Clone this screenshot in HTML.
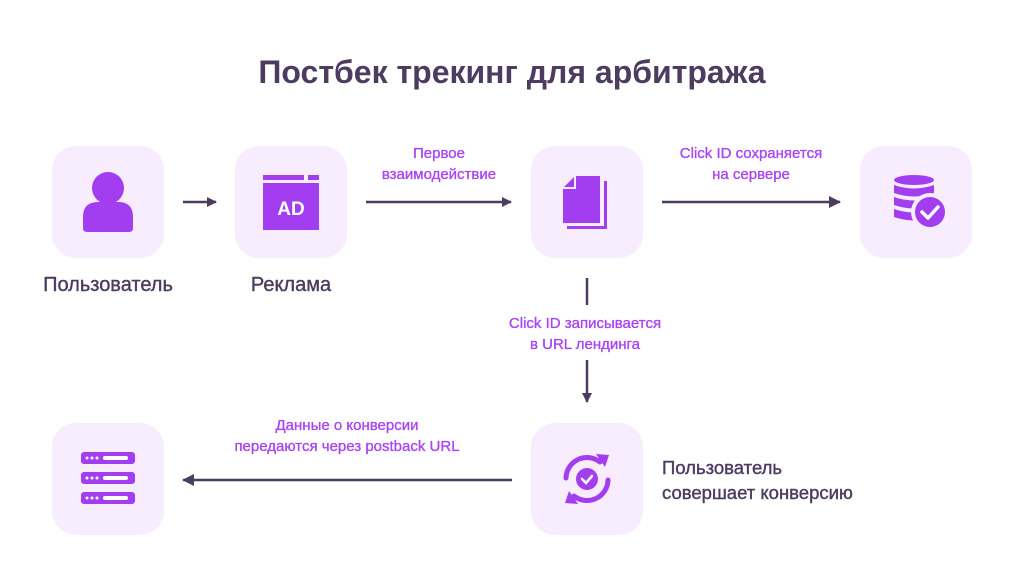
<!DOCTYPE html>
<html><head><meta charset="utf-8"><style>
html,body{margin:0;padding:0;background:#fff;}
svg{display:block;}
text{font-family:"Liberation Sans","DejaVu Sans",sans-serif;}
</style></head><body>
<svg width="1024" height="578" viewBox="0 0 1024 578" xmlns="http://www.w3.org/2000/svg">
<defs>
<marker id="ah" viewBox="0 0 10 10" refX="9" refY="5" markerWidth="10" markerHeight="10" markerUnits="userSpaceOnUse" orient="auto">
<path d="M0,0 L10,5 L0,10 Z" fill="#4e3c5f"/></marker>
<marker id="ahb" viewBox="0 0 12 12" refX="11" refY="6" markerWidth="12" markerHeight="12" markerUnits="userSpaceOnUse" orient="auto">
<path d="M0,0 L12,6 L0,12 Z" fill="#4e3c5f"/></marker>
</defs>
<text x="512" y="83" text-anchor="middle" font-size="32" font-weight="bold" fill="#4d3c60">Постбек трекинг для арбитража</text>

<g fill="#f7edfe">
<rect x="52" y="146" width="112" height="112" rx="24"/>
<rect x="235" y="146" width="112" height="112" rx="24"/>
<rect x="531" y="146" width="112" height="112" rx="24"/>
<rect x="860" y="146" width="112" height="112" rx="24"/>
<rect x="52" y="423" width="112" height="112" rx="24"/>
<rect x="531" y="423" width="112" height="112" rx="24"/>
</g>

<g fill="#a23ef0">
<circle cx="108" cy="188" r="16"/>
<path d="M83,228 v-11 q0,-15 15,-15 h20 q15,0 15,15 v11 q0,4 -4,4 h-42 q-4,0 -4,-4z"/>
<rect x="263" y="175" width="56" height="5"/>
<rect x="263" y="183" width="56" height="47"/>
<path d="M575,176 h25 v47 h-37 v-35 z"/>
<path d="M604,181 h3 v48 h-40 v-3 h37 z"/>
<ellipse cx="914" cy="180" rx="20" ry="5"/>
<path d="M894,185 q20,7 40,0 v8 q-20,7 -40,0z"/>
<path d="M894,197 q20,7 40,0 v8 q-20,7 -40,0z"/>
<path d="M894,209 q20,7 40,0 v8 q-20,7 -40,0z"/>
<circle cx="930" cy="212" r="19" fill="#f7edfe"/>
<circle cx="930" cy="212" r="15"/>
<rect x="81" y="452" width="54" height="12" rx="3"/>
<rect x="81" y="472" width="54" height="12" rx="3"/>
<rect x="81" y="492" width="54" height="12" rx="3"/>
<circle cx="587" cy="479" r="11"/>
</g>
<text x="291" y="215" text-anchor="middle" font-size="19" font-weight="bold" fill="#fff">AD</text>
<rect x="304" y="175" width="4" height="5" fill="#f7edfe"/>
<path d="M575,176 v12 h-12" fill="none" stroke="#f7edfe" stroke-width="2"/>
<path d="M922,212 l6,6 l10,-11" fill="none" stroke="#fff" stroke-width="3.5" stroke-linecap="round" stroke-linejoin="round"/>
<g fill="#fff">
<circle cx="87" cy="458" r="1.5"/><circle cx="92" cy="458" r="1.5"/><circle cx="97" cy="458" r="1.5"/><rect x="103" y="456" width="25" height="4" rx="2"/>
<circle cx="87" cy="478" r="1.5"/><circle cx="92" cy="478" r="1.5"/><circle cx="97" cy="478" r="1.5"/><rect x="103" y="476" width="25" height="4" rx="2"/>
<circle cx="87" cy="498" r="1.5"/><circle cx="92" cy="498" r="1.5"/><circle cx="97" cy="498" r="1.5"/><rect x="103" y="496" width="25" height="4" rx="2"/>
</g>
<path d="M582,479 l4,4 l6,-7" fill="none" stroke="#fff" stroke-width="2.5" stroke-linecap="round"/>
<path d="M566,478 a21,21 0 0 1 34,-16" fill="none" stroke="#a23ef0" stroke-width="5" stroke-linecap="round"/>
<path d="M608,480 a21,21 0 0 1 -34,16" fill="none" stroke="#a23ef0" stroke-width="5" stroke-linecap="round"/>
<path d="M596,454 l13,1 l-4,12 z" fill="#a23ef0"/>
<path d="M578,504 l-13,-1 l4,-12 z" fill="#a23ef0"/>

<g stroke="#4e3c5f" stroke-width="2.5" fill="none">
<line x1="183" y1="202" x2="216" y2="202" marker-end="url(#ah)"/>
<line x1="366" y1="202" x2="511" y2="202" marker-end="url(#ah)"/>
<line x1="662" y1="202" x2="840" y2="202" marker-end="url(#ahb)"/>
<line x1="587" y1="278" x2="587" y2="305"/>
<line x1="587" y1="360" x2="587" y2="402" marker-end="url(#ah)"/>
<line x1="512" y1="480" x2="183" y2="480" marker-end="url(#ahb)"/>
</g>

<g font-size="20" fill="#4d3c60" stroke="#4d3c60" stroke-width="0.4">
<text x="108" y="291" text-anchor="middle">Пользователь</text>
<text x="291" y="291" text-anchor="middle">Реклама</text>
<text x="662" y="474" font-size="18.5">Пользователь</text>
<text x="662" y="499" font-size="18.5">совершает конверсию</text>
</g>
<g font-size="15" fill="#a945f5" stroke="#a945f5" stroke-width="0.35" text-anchor="middle">
<text x="439" y="158">Первое</text>
<text x="439" y="179">взаимодействие</text>
<text x="751" y="158">Click ID сохраняется</text>
<text x="751" y="179">на сервере</text>
<text x="585" y="328">Click ID записывается</text>
<text x="585" y="349">в URL лендинга</text>
<text x="347" y="430">Данные о конверсии</text>
<text x="347" y="451">передаются через postback URL</text>
</g>
</svg>
</body></html>
